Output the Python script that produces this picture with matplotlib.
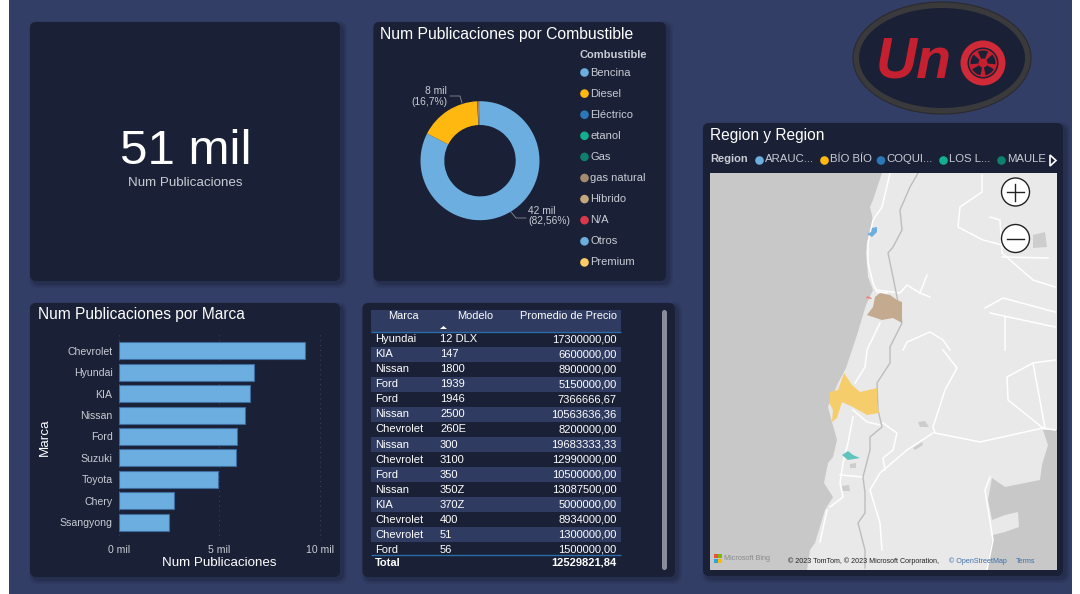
import matplotlib
matplotlib.use('Agg')
import matplotlib.pyplot as plt
from matplotlib.patches import FancyBboxPatch, Ellipse, Circle, Polygon, Rectangle, Wedge

plt.rcParams['font.family'] = ['Liberation Sans', 'DejaVu Sans']

# data
marcas = ['Chevrolet', 'Hyundai', 'KIA', 'Nissan', 'Ford', 'Suzuki', 'Toyota', 'Chery', 'Ssangyong']
publicaciones = [9.27, 6.73, 6.55, 6.27, 5.89, 5.85, 4.96, 2.73, 2.49]

combustibles = ['Bencina', 'Diesel', 'Eléctrico', 'etanol', 'Gas', 'gas natural', 'Híbrido', 'N/A', 'Otros', 'Premium']
combustible_pct = [82.56, 16.7, 0.02, 0.02, 0.05, 0.35, 0.25, 0.02, 0.02, 0.01]
combustible_col = ['#6CAEE0', '#FFB810', '#2B78B8', '#12B08F', '#0F7F6E', '#A68A6D', '#C4A77D', '#D9384A', '#6CAEE0', '#FFCB66']

tabla_marca = ['Hyundai', 'KIA', 'Nissan', 'Ford', 'Ford', 'Nissan', 'Chevrolet', 'Nissan', 'Chevrolet', 'Ford',
               'Nissan', 'KIA', 'Chevrolet', 'Chevrolet', 'Ford']
tabla_modelo = ['12 DLX', '147', '1800', '1939', '1946', '2500', '260E', '300', '3100', '350',
                '350Z', '370Z', '400', '51', '56']
tabla_precio = ['17300000,00', '6600000,00', '8900000,00', '5150000,00', '7366666,67', '10563636,36', '8200000,00',
                '19683333,33', '12990000,00', '10500000,00', '13087500,00', '5000000,00', '8934000,00',
                '1300000,00', '1500000,00']

regiones = ['ARAUC...', 'BÍO BÍO', 'COQUI...', 'LOS L...', 'MAULE']
region_col = ['#6CAEE0', '#FFB810', '#2B78B8', '#12B08F', '#0F7F6E']
region_x = [756.5, 821.5, 878, 940.5, 998.5]

# map outlines
mar_oeste = [(710, 173), (882, 173), (873, 200), (870, 207), (873, 220), (867, 243), (866, 253), (868, 277), (873, 290),
             (866, 305), (860, 325), (857, 335), (852, 350), (846, 368), (838, 383), (828, 407), (832, 422), (837, 440),
             (833, 457), (828, 463), (824, 483), (833, 497), (825, 510), (815, 543), (810, 550), (807, 570), (710, 570)]
mar_este = [(1057, 430), (1043, 430), (1048, 445), (1042, 465), (1040, 480), (1005, 487), (992, 478), (988, 500),
            (992, 520), (1005, 515), (1018, 512), (1019, 527), (1005, 532), (993, 535), (990, 550), (987, 570), (1057, 570)]
andes = [(918, 173), (910, 187), (900, 210), (902, 230), (893, 247), (888, 253), (893, 277), (897, 297), (902, 323),
         (890, 347), (890, 363), (877, 383), (878, 410), (882, 427), (870, 437), (870, 450), (863, 477), (865, 493),
         (865, 513), (858, 523), (865, 550), (865, 568)]
rutas = [
    [(890, 173), (882, 207), (873, 220), (868, 243), (868, 263), (873, 283), (877, 292), (887, 293)],
    [(982, 175), (982, 192), (960, 207), (958, 227), (983, 240), (1002, 245)],
    [(990, 217), (1000, 220), (1002, 253), (1033, 280), (1055, 287)],
    [(1002, 257), (1048, 258)],
    [(877, 290), (900, 293), (907, 285), (920, 293), (930, 297)],
    [(920, 293), (927, 275)],
    [(985, 308), (1003, 298), (1055, 312)],
    [(990, 313), (1055, 327)],
    [(1005, 317), (1005, 350)],
    [(903, 350), (907, 342), (930, 332), (943, 340), (950, 350)],
    [(880, 323), (867, 350), (865, 367), (855, 383)],
    [(943, 350), (957, 368), (945, 390), (933, 427), (935, 433), (980, 442), (1043, 428), (1055, 430)],
    [(1055, 360), (1033, 363), (1007, 377), (1008, 400), (1043, 428)],
    [(1033, 363), (1045, 428)],
    [(933, 433), (907, 450), (880, 473), (870, 490), (880, 523), (882, 550)],
    [(853, 410), (867, 422), (880, 425)],
    [(853, 417), (848, 443), (843, 463), (840, 483), (843, 497), (830, 507)],
    [(883, 423), (897, 433), (893, 450), (883, 458), (885, 470)],
    [(840, 475), (863, 477)],
    [(987, 570), (993, 540), (985, 490), (990, 477)],
    [(827, 510), (820, 542)],
]
lagos = [
    [(1033, 235), (1045, 232), (1047, 247), (1033, 248)],
    [(918, 422), (925, 421), (929, 427), (920, 427)],
    [(913, 448), (922, 442), (923, 445), (915, 450)],
    [(850, 464), (856, 463), (856, 468), (850, 468)],
    [(842, 486), (849, 485), (850, 491), (843, 491)],
]
reg_arauc = [(872, 228), (877, 227), (877, 232), (872, 237), (867, 234), (871, 232)]
reg_tan = [(880, 293), (890, 295), (897, 300), (902, 302), (902, 323), (893, 318), (882, 320), (867, 315), (873, 307), (875, 297)]
reg_roja = [(867, 296), (872, 298), (871, 299), (866, 298)]
reg_bio = [(844, 373), (852, 385), (860, 392), (877, 388), (877, 402), (879, 413), (867, 415), (853, 407), (842, 402),
           (837, 418), (832, 422), (833, 410), (829, 402), (830, 392), (838, 390)]
reg_teal = [(842, 455), (848, 451), (853, 455), (860, 458), (848, 460)]

FONDO = '#323E66'
PANEL = '#1A2035'
BANDA = '#2F3B60'
GRIS = '#C8CCD4'

fig = plt.figure(figsize=(10.8, 5.94), dpi=100, facecolor='white')
base = fig.add_axes([0, 0, 1, 1])
base.set_xlim(0, 1080)
base.set_ylim(594, 0)
base.axis('off')


def px_axes(x0, y0, x1, y1):
    return fig.add_axes([x0 / 1080, 1 - y1 / 594, (x1 - x0) / 1080, (y1 - y0) / 594])


def panel(x0, y0, x1, y1):
    for grow, alpha in [(8, 0.05), (5, 0.07), (2, 0.10)]:
        base.add_patch(FancyBboxPatch((x0 + 3 - grow / 2, y0 + 3 - grow / 2), x1 - x0 + grow, y1 - y0 + grow,
                                      boxstyle='round,pad=0,rounding_size=8', fc='black', ec='none', alpha=alpha))
    base.add_patch(FancyBboxPatch((x0, y0), x1 - x0, y1 - y0, boxstyle='round,pad=0,rounding_size=6',
                                  fc=PANEL, ec='none'))


base.add_patch(Rectangle((9, 0), 1063, 594, fc=FONDO, ec='none'))
panel(30, 22, 340, 281)
panel(373.5, 22, 666, 281)
panel(30, 303, 340, 577)
panel(362.5, 303, 675, 577)
panel(703, 123, 1063, 576)

# KPI
base.text(185.5, 152, '51 mil', color='white', fontsize=35.5, ha='center', va='center')
base.text(185.5, 183, 'Num Publicaciones', color=GRIS, fontsize=9.6, ha='center', va='center')

# titles
base.text(380.5, 34, 'Num Publicaciones por Combustible', color='white', fontsize=11.3, va='center')
base.text(37.5, 314.5, 'Num Publicaciones por Marca', color='white', fontsize=11.2, va='center')
base.text(710, 135.5, 'Region y Region', color='white', fontsize=11.2, va='center')

# donut
ax_d = px_axes(420.5, 101.2, 539.5, 220.2)
ax_d.pie(combustible_pct, colors=combustible_col, startangle=90, counterclock=False, radius=1,
         wedgeprops=dict(width=0.40, edgecolor='none'))
ax_d.set_xlim(-1, 1)
ax_d.set_ylim(-1, 1)
base.text(447, 96.5, '8 mil\n(16,7%)', color=GRIS, fontsize=7.4, ha='right', va='center', linespacing=1.1)
base.plot([450, 460, 462], [96, 96, 103], color='#8A8D99', lw=0.6)
base.text(528, 216, '42 mil\n(82,56%)', color=GRIS, fontsize=7.4, ha='left', va='center', linespacing=1.1)
base.plot([511, 516, 526], [212, 218, 218], color='#8A8D99', lw=0.6)

base.text(579.5, 55, 'Combustible', color=GRIS, fontsize=8, fontweight='bold', va='center')
for i, nombre in enumerate(combustibles):
    y = 72.5 + i * 21.1
    base.add_patch(Circle((584.5, y), 4.3, fc=combustible_col[i], ec='none'))
    base.text(590.5, y, nombre, color=GRIS, fontsize=8, va='center')

# bars
ax_b = px_axes(118.7, 333, 340, 540)
ax_b.set_facecolor('none')
pos = list(range(len(marcas)))
ax_b.barh(pos, publicaciones, height=0.79, color='#6CAEE0', edgecolor='#3F6C9E', linewidth=0.8, zorder=3)
ax_b.set_xlim(0, 11)
ax_b.set_ylim(8.82, -0.82)
ax_b.set_yticks(pos, marcas)
ax_b.set_xticks([0, 5, 10], ['0 mil', '5 mil', '10 mil'])
ax_b.grid(axis='x', color='#3E445A', linestyle=(0, (1, 4)), linewidth=0.7)
ax_b.set_axisbelow(True)
ax_b.tick_params(length=0, colors=GRIS, labelsize=7.6)
ax_b.tick_params(axis='y', pad=4.5)
ax_b.tick_params(axis='x', pad=3.5)
for s in ax_b.spines.values():
    s.set_visible(False)
base.text(45, 437, 'Marca', color='white', fontsize=9.6, rotation=90, ha='center', va='center')
base.text(219, 563.5, 'Num Publicaciones', color='white', fontsize=9.6, ha='center', va='center')

# table
base.add_patch(Rectangle((370.7, 310), 250, 22, fc=BANDA, ec='none'))
base.plot([370.7, 620.7], [332, 332], color='#2B6CA8', lw=1, solid_capstyle='butt')
base.text(403.5, 316, 'Marca', color='white', fontsize=7.9, ha='center', va='center')
base.text(475, 316, 'Modelo', color='white', fontsize=7.9, ha='center', va='center')
base.text(616.5, 316, 'Promedio de Precio', color='white', fontsize=7.9, ha='right', va='center')
base.add_patch(Polygon([(440, 329), (447, 329), (443.5, 326)], fc='white', ec='none'))
for i in range(len(tabla_marca)):
    y = 339.3 + i * 15.03
    if i % 2 == 1:
        base.add_patch(Rectangle((370.7, y - 7.2), 250, 14.6, fc=BANDA, ec='none'))
    base.text(375, y, tabla_marca[i], color='white', fontsize=8, va='center')
    base.text(440, y, tabla_modelo[i], color='white', fontsize=8, va='center')
    base.text(616.5, y, tabla_precio[i], color='white', fontsize=8, ha='right', va='center')
base.plot([370.7, 620.7], [555, 555], color='#2B6CA8', lw=1, solid_capstyle='butt')
base.text(375, 562.5, 'Total', color='white', fontsize=8, fontweight='bold', va='center')
base.text(616.5, 562.5, '12529821,84', color='white', fontsize=8, fontweight='bold', ha='right', va='center')
base.add_patch(FancyBboxPatch((662, 310), 5, 260, boxstyle='round,pad=0,rounding_size=2.5', fc='#8A8D99', ec='none'))

# map legend
base.text(710, 159.5, 'Region', color=GRIS, fontsize=8, fontweight='bold', va='center')
for i, nombre in enumerate(regiones):
    base.add_patch(Circle((region_x[i] + 3, 160.5), 4.3, fc=region_col[i], ec='none'))
    base.text(region_x[i] + 8.5, 159.5, nombre, color=GRIS, fontsize=8.2, va='center')
base.add_patch(Polygon([(1050, 155), (1056, 160.5), (1050, 166)], fc=PANEL, ec='white', lw=1.2))

# map
ax_m = px_axes(710, 173, 1057, 570)
ax_m.set_xlim(710, 1057)
ax_m.set_ylim(570, 173)
ax_m.set_facecolor('#E9E9E9')
ax_m.set_xticks([])
ax_m.set_yticks([])
for s in ax_m.spines.values():
    s.set_visible(False)
ax_m.add_patch(Polygon(mar_oeste, fc='#C8C8C8', ec='none'))
ax_m.add_patch(Polygon(mar_este, fc='#C8C8C8', ec='none'))
for r in rutas:
    ax_m.plot([p[0] for p in r], [p[1] for p in r], color='white', lw=1.1, solid_joinstyle='round')
ax_m.plot([p[0] for p in andes], [p[1] for p in andes], color='#BDBDBD', lw=1.0)
for l in lagos:
    ax_m.add_patch(Polygon(l, fc='#CDCDCD', ec='none', zorder=3))
for poly, col in [(reg_arauc, '#6CAEE0'), (reg_tan, '#C4AB8F'), (reg_roja, '#E8837F'), (reg_bio, '#F6CD6B'), (reg_teal, '#5FC4BD')]:
    ax_m.add_patch(Polygon(poly, fc=col, ec='none', zorder=4))
for cy, simbolo in [(192, '+'), (238.5, '−')]:
    ax_m.add_patch(Circle((1015.5, cy), 14, fc='white', ec='#222222', lw=1, zorder=5))
    ax_m.plot([1007, 1024], [cy, cy], color='#222222', lw=1, zorder=6)
    if simbolo == '+':
        ax_m.plot([1015.5, 1015.5], [cy - 8.5, cy + 8.5], color='#222222', lw=1, zorder=6)
for (x, y, c) in [(714, 554, '#E8533F'), (718.5, 554, '#7FBA00'), (714, 558.5, '#2AA5E0'), (718.5, 558.5, '#FFB900')]:
    ax_m.add_patch(Rectangle((x, y), 4, 4, fc=c, ec='none', zorder=5))
ax_m.text(724, 558.5, 'Microsoft Bing', color='#8A8A8A', fontsize=5.2, va='center')
ax_m.text(788, 561.5, '© 2023 TomTom, © 2023 Microsoft Corporation, ', color='#222222', fontsize=5.1, va='center')
ax_m.text(949, 561.5, '© OpenStreetMap', color='#3B6EA8', fontsize=5.1, va='center')
ax_m.text(1016, 561.5, 'Terms', color='#3B6EA8', fontsize=5.1, va='center')

# logo
base.add_patch(Ellipse((942, 58), 178, 112, fc='#3A3A3C', ec='#2A2A2E', lw=0.8))
base.add_patch(Ellipse((942, 58), 166, 100, fc=PANEL, ec='none'))
base.text(914, 63, 'Un', color='#C4202F', fontsize=41, fontweight='bold', fontstyle='italic', ha='center', va='center')
base.add_patch(Circle((983, 63), 22.5, fc='#D02A38', ec='none'))
base.add_patch(Circle((983, 63), 15.5, fc=PANEL, ec='none'))
base.add_patch(Circle((983, 63), 14, fc='#C4202F', ec='none'))
for ang in [30, 102, 174, 246, 318]:
    base.add_patch(Wedge((983, 63), 12.5, ang, ang + 48, width=8, fc=PANEL, ec='none'))

fig.savefig('out.png', dpi=100, facecolor='white')
